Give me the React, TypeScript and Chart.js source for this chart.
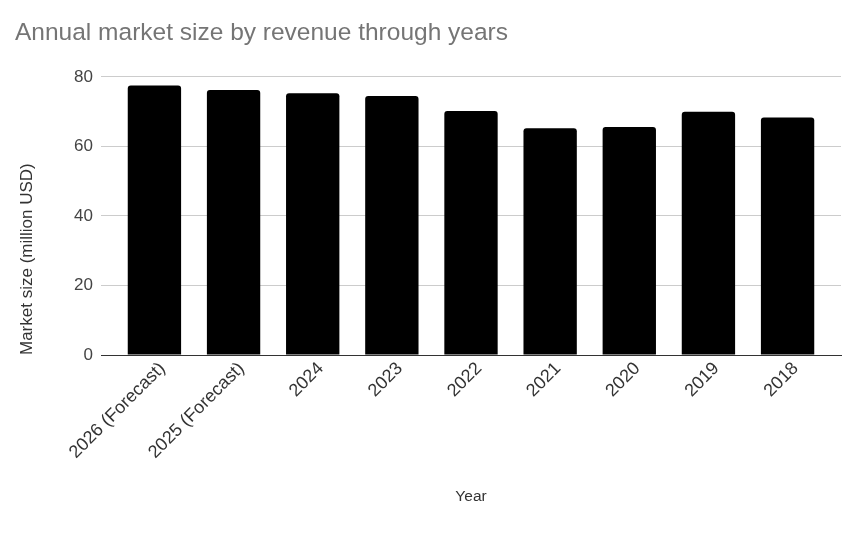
import { useEffect, useRef } from 'react';
import { Chart, registerables } from 'chart.js';

Chart.register(...registerables);

const categories = [
  '2026 (Forecast)',
  '2025 (Forecast)',
  '2024',
  '2023',
  '2022',
  '2021',
  '2020',
  '2019',
  '2018',
];
const marketSize = [77.5, 76.2, 75.3, 74.5, 70.2, 65.2, 65.6, 70.0, 68.3];
const yTicks = [0, 20, 40, 60, 80];
const chartTitle = 'Annual market size by revenue through years';
const xTitle = 'Year';
const yTitle = 'Market size (million USD)';

const FONT = "'Liberation Sans', Arial, Helvetica, sans-serif";

export default function App() {
  const ref = useRef<HTMLCanvasElement>(null);

  useEffect(() => {
    document.body.style.margin = '0';
    const canvas = ref.current;
    if (!canvas) return;
    const edge = 0.675;
    const chart = new Chart(canvas, {
      type: 'bar',
      data: {
        datasets: [
          {
            label: yTitle,
            data: marketSize.map((v, i) => ({ x: i, y: v })),
            backgroundColor: '#000000',
            borderRadius: 3,
            borderSkipped: 'start',
            barPercentage: 0.674,
            categoryPercentage: 1,
          },
        ],
      },
      options: {
        animation: false,
        responsive: false,
        devicePixelRatio: 1,
        layout: { padding: { left: 15, right: 23, top: 0, bottom: 0 } },
        plugins: {
          legend: { display: false },
          tooltip: { enabled: false },
          title: {
            display: true,
            text: chartTitle,
            align: 'start',
            color: '#757575',
            font: { family: FONT, size: 24.5, weight: 'normal' },
            padding: { top: 19, bottom: 28.5 },
          },
        },
        scales: {
          x: {
            type: 'linear',
            offset: false,
            min: -edge,
            max: categories.length - 1 + edge,
            grid: { display: false, drawTicks: false, offset: false },
            border: { display: true, color: '#333333', width: 1 },
            ticks: {
              stepSize: 1,
              includeBounds: false,
              autoSkip: false,
              minRotation: 45,
              maxRotation: 45,
              padding: 3,
              labelOffset: 8,
              color: '#333333',
              font: { family: FONT, size: 18 },
              callback: (v: any) =>
                Number.isInteger(v) && categories[v] !== undefined ? categories[v] : '',
            },
            title: {
              display: true,
              text: xTitle,
              color: '#333333',
              font: { family: FONT, size: 15.5 },
              padding: { top: 0, bottom: 26.5 },
            },
            afterFit: (s: any) => {
              s.height = 178;
            },
          },
          y: {
            min: yTicks[0],
            max: yTicks[yTicks.length - 1],
            ticks: {
              stepSize: yTicks[1] - yTicks[0],
              padding: 8,
              color: '#444444',
              font: { family: FONT, size: 17 },
            },
            grid: {
              drawTicks: false,
              lineWidth: 1,
              color: (c: any) => (c.tick && c.tick.value === 0 ? '#333333' : '#cccccc'),
            },
            border: { display: false },
            title: {
              display: true,
              text: yTitle,
              align: 'start',
              color: '#333333',
              font: { family: FONT, size: 17 },
              padding: { top: 2, bottom: 0 },
            },
            afterFit: (s: any) => {
              s.width = 86;
            },
          },
        },
      },
    });
    return () => chart.destroy();
  }, []);

  return (
    <div style={{ width: 864, height: 533, background: '#ffffff' }}>
      <canvas ref={ref} width={864} height={533} style={{ display: 'block' }} />
    </div>
  );
}
